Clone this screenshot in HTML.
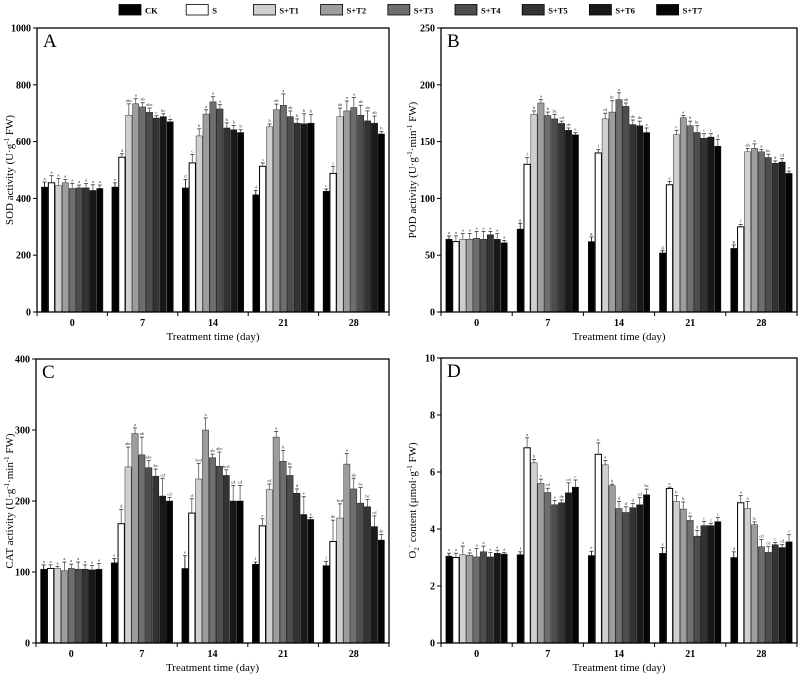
<!DOCTYPE html>
<html><head><meta charset="utf-8">
<style>
body{margin:0;background:#fff;}
svg{display:block;font-family:"Liberation Serif",serif;}
</style></head>
<body>
<svg id="chart" width="799" height="681" viewBox="0 0 799 681" xmlns="http://www.w3.org/2000/svg"></svg>
<script>
const categories = ["0","7","14","21","28"];
const seriesNames = ["CK","S","S+T1","S+T2","S+T3","S+T4","S+T5","S+T6","S+T7"];
const seriesFills = ["#000","#fff","#cfcfcf","#9d9d9d","#6e6e6e","#4d4d4d","#333","#191919","#050505"];

// Panel A: SOD (per day, per series)
const sodValues = [
 [440,455,445,455,435,437,437,428,435],
 [440,545,693,733,722,703,683,688,670],
 [437,525,620,697,740,715,648,642,632],
 [413,513,652,712,728,688,665,663,665],
 [425,488,688,708,720,693,673,665,627]];
const sodErrors = [
 [18,25,25,12,18,10,15,20,12],
 [15,12,40,18,15,15,8,10,8],
 [30,30,25,15,18,15,18,15,10],
 [15,12,10,20,40,20,15,35,30],
 [8,25,30,35,35,35,35,25,8]];
const sodLetters = [
 ["a","a","a","a","a","a","a","a","a"],
 ["e","d","abc","a","ab","abc","c","bc","c"],
 ["d","c","b","a","a","a","b","b","b"],
 ["d","c","b","ab","a","ab","b","b","b"],
 ["c","c","ab","a","a","ab","ab","ab","b"]];

// Panel B: POD
const podValues = [
 [64,62,64,64,65,64,68,64,61],
 [73,130,174,184,173,170,166,160,156],
 [62,140,170,176,187,181,165,164,158],
 [52,112,156,171,164,158,153,154,146],
 [56,75,141,144,141,136,131,132,122]];
const podErrors = [
 [3,5,5,5,6,7,3,5,2],
 [5,6,3,3,3,4,2,2,2],
 [4,3,5,10,6,3,4,4,4],
 [2,3,4,2,4,6,4,3,6],
 [3,2,3,4,2,3,2,3,2]];
const podLetters = [
 ["a","a","a","a","a","a","a","a","a"],
 ["g","f","b","a","b","bc","cd","de","e"],
 ["g","f","cd","bc","a","ab","de","de","e"],
 ["g","e","c","a","b","bc","c","c","d"],
 ["g","f","ab","a","a","bc","d","cd","e"]];

// Panel C: CAT
const catValues = [
 [104,105,105,102,105,104,104,103,104],
 [113,168,248,295,265,247,235,207,200],
 [105,183,231,300,261,249,236,200,200],
 [111,165,216,290,256,236,211,181,174],
 [109,143,176,252,217,197,192,164,145]];
const catErrors = [
 [6,5,3,12,6,10,6,6,8],
 [6,20,28,8,25,10,10,25,5],
 [18,20,22,17,5,20,8,22,22],
 [3,10,8,8,15,12,6,25,3],
 [6,30,20,15,15,22,10,15,8]];
const catLetters = [
 ["a","a","a","a","a","a","a","a","a"],
 ["e","d","abc","a","ab","abc","bc","cd","cd"],
 ["e","d","bcd","a","ab","abc","bcd","cd","cd"],
 ["f","e","cd","a","b","bc","d","e","e"],
 ["f","de","bcd","a","ab","bc","bc","cd","de"]];

// Panel D: O2- content
const o2Values = [
 [3.05,3.0,3.1,3.08,3.02,3.2,3.02,3.15,3.12],
 [3.1,6.85,6.32,5.6,5.28,4.85,4.92,5.27,5.47],
 [3.07,6.62,6.25,5.52,4.72,4.58,4.75,4.85,5.2],
 [3.15,5.42,4.97,4.7,4.3,3.75,4.12,4.12,4.26],
 [3.0,4.92,4.72,4.15,3.38,3.18,3.45,3.35,3.55]];
const o2Errors = [
 [0.1,0.15,0.3,0.08,0.3,0.2,0.15,0.1,0.05],
 [0.1,0.35,0.12,0.15,0.15,0.15,0.1,0.35,0.25],
 [0.15,0.4,0.15,0.05,0.25,0.2,0.15,0.25,0.2],
 [0.2,0.05,0.2,0.25,0.15,0.2,0.15,0.08,0.15],
 [0.2,0.25,0.25,0.1,0.25,0.2,0.08,0.1,0.25]];
const o2Letters = [
 ["a","a","a","a","a","a","a","a","a"],
 ["f","a","b","c","cd","e","de","cd","c"],
 ["e","a","a","b","d","d","d","cd","bc"],
 ["e","a","b","b","c","d","c","c","c"],
 ["d","a","a","b","cd","cd","c","cd","c"]];

const yTicksA = [0,200,400,600,800,1000];
const yTicksB = [0,50,100,150,200,250];
const yTicksC = [0,100,200,300,400];
const yTicksD = [0,2,4,6,8,10];

const NS = "http://www.w3.org/2000/svg";
const svg = document.getElementById("chart");
function mk(tag, attrs, parent, text){
  const e = document.createElementNS(NS, tag);
  for (const k in attrs) e.setAttribute(k, attrs[k]);
  if (text !== undefined) e.textContent = text;
  (parent || svg).appendChild(e);
  return e;
}

// Legend
const legend = mk("g", {});


seriesNames.forEach((n, i) => {
  const x = 119 + i * 67.2;
  const g = mk("g", {}, legend);
  
  
  mk("rect", {x: x, y: 4.5, width: 22, height: 10.5, fill: seriesFills[i], stroke: "#000", "stroke-width": 0.8}, g);
  mk("text", {x: x + 26, y: 13.5, "font-size": 8.5, "font-weight": "bold"}, g, n);
});

function drawPanel(p){
  const g = mk("g", {});
  
  
  const L = p.x0, R = p.x1, T = p.y0, B = p.y1;
  const ymax = p.ticks[p.ticks.length - 1];
  const yS = v => B - (v / ymax) * (B - T);
  const bin = (R - L) / categories.length;
  const bw = 6.9;
  p.values.forEach((row, c) => {
    const cx = L + bin * (c + 0.5);
    row.forEach((v, s) => {
      const x = cx - 4.5 * bw + s * bw;
      const bar = mk("rect", {x: x + 0.3, y: yS(v), width: bw - 0.6, height: B - yS(v), fill: seriesFills[s], stroke: "#000", "stroke-width": s === 1 ? 1 : 0.4}, g);
      
      
      const e = p.errors[c][s];
      const xm = x + bw / 2;
      mk("line", {x1: xm, x2: xm, y1: yS(v), y2: yS(v + e), stroke: s === 0 ? "#000" : "#555", "stroke-width": 0.8}, g);
      mk("line", {x1: xm - 2, x2: xm + 2, y1: yS(v + e), y2: yS(v + e), stroke: "#333", "stroke-width": 0.8}, g);
      mk("text", {x: xm, y: yS(v + e) - 2, "font-size": 4.5, "text-anchor": "middle", fill: "#222"}, g, p.letters[c][s]);
    });
  });
  mk("rect", {x: L, y: T, width: R - L, height: B - T, fill: "none", stroke: "#000", "stroke-width": 1.3}, g);
  p.ticks.forEach(t => {
    mk("line", {x1: L - 4, x2: L, y1: yS(t), y2: yS(t), stroke: "#000", "stroke-width": 1}, g);
    mk("text", {x: L - 6, y: yS(t) + 3.5, "font-size": 10, "font-weight": "bold", "text-anchor": "end"}, g, String(t));
  });
  for (let k = 0; k <= categories.length; k++) {
    const x = L + bin * k;
    mk("line", {x1: x, x2: x, y1: B, y2: B + 4, stroke: "#000", "stroke-width": 1}, g);
  }
  categories.forEach((c, i) => {
    mk("text", {x: L + bin * (i + 0.5), y: B + 14, "font-size": 10, "font-weight": "bold", "text-anchor": "middle"}, g, c);
  });
  const xt = mk("text", {x: (L + R) / 2, y: B + 28, "font-size": 11, "text-anchor": "middle"}, g, "Treatment time (day)");
  
  
  const yt = mk("text", {x: 0, y: 0, "font-size": 11, "text-anchor": "middle", transform: "translate(" + (p.ytx) + "," + ((T + B) / 2) + ") rotate(-90)"}, g);
  
  
  p.ylabel.forEach(part => {
    mk("tspan", part.sup ? {"font-size": 7, dy: part.dy} : (part.dy ? {dy: part.dy} : {}), yt, part.t);
  });
  const pl = mk("text", {x: L + 6, y: T + 19, "font-size": 19}, g, p.letter);
  
  
}

drawPanel({name: "sod-panel", key: "a", letter: "A", x0: 37, x1: 389, y0: 28, y1: 312, ticks: yTicksA,
  values: sodValues, errors: sodErrors, letters: sodLetters, ytx: 13,
  ylabel: [{t: "SOD activity (U·g"}, {t: "-1", sup: true, dy: -4}, {t: " FW)", dy: 4}]});
drawPanel({name: "pod-panel", key: "b", letter: "B", x0: 441, x1: 797, y0: 28, y1: 312, ticks: yTicksB,
  values: podValues, errors: podErrors, letters: podLetters, ytx: 416,
  ylabel: [{t: "POD activity (U·g"}, {t: "-1", sup: true, dy: -4}, {t: "·min", dy: 4}, {t: "-1", sup: true, dy: -4}, {t: " FW)", dy: 4}]});
drawPanel({name: "cat-panel", key: "c", letter: "C", x0: 36, x1: 389, y0: 359, y1: 643, ticks: yTicksC,
  values: catValues, errors: catErrors, letters: catLetters, ytx: 13,
  ylabel: [{t: "CAT activity (U·g"}, {t: "-1", sup: true, dy: -4}, {t: "·min", dy: 4}, {t: "-1", sup: true, dy: -4}, {t: " FW)", dy: 4}]});
drawPanel({name: "o2-panel", key: "d", letter: "D", x0: 441, x1: 797, y0: 358, y1: 643, ticks: yTicksD,
  values: o2Values, errors: o2Errors, letters: o2Letters, ytx: 416,
  ylabel: [{t: "O"}, {t: "2", sup: true, dy: 3}, {t: "·", sup: true, dy: -7}, {t: " content (μmol·g", dy: 4}, {t: "-1", sup: true, dy: -4}, {t: " FW)", dy: 4}]});
</script>
</body></html>
